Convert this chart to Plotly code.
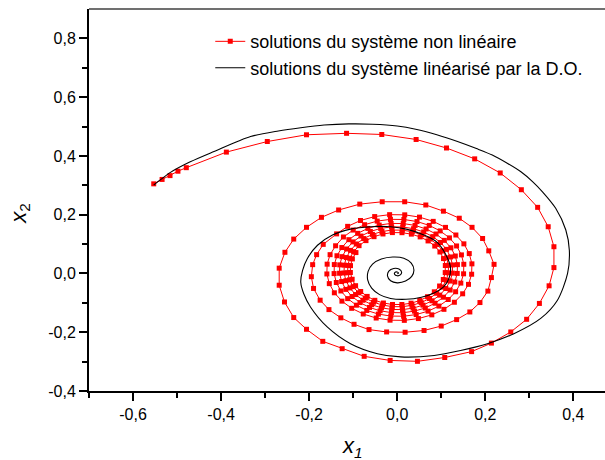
import plotly.graph_objects as go

# ---- Nonlinear system solution (red, markers at each computed step) ----
# first revolution
nl_x_turn1 = [-0.553, -0.534, -0.516, -0.498, -0.479, -0.388, -0.295, -0.206, -0.115, -0.035,
              0.043, 0.112, 0.176, 0.234, 0.282, 0.319, 0.343, 0.356, 0.356, 0.345,
              0.323, 0.294, 0.258, 0.214, 0.169, 0.108, 0.046, -0.016, -0.075, -0.125,
              -0.169, -0.206, -0.235, -0.256, -0.268, -0.268, -0.255, -0.235]
nl_y_turn1 = [0.305, 0.320, 0.333, 0.348, 0.360, 0.413, 0.449, 0.472, 0.477, 0.473,
              0.456, 0.427, 0.390, 0.342, 0.285, 0.225, 0.159, 0.091, 0.020, -0.042,
              -0.102, -0.156, -0.199, -0.237, -0.266, -0.286, -0.299, -0.296, -0.282, -0.256,
              -0.231, -0.190, -0.150, -0.097, -0.040, 0.018, 0.072, 0.117]
# second revolution
nl_x_turn2 = [-0.206, -0.172, -0.133, -0.085, -0.034, 0.017, 0.065, 0.105, 0.141, 0.170,
              0.194, 0.208, 0.220, 0.214, 0.206, 0.188, 0.165, 0.135, 0.100, 0.061,
              0.018, -0.024, -0.064, -0.098, -0.128, -0.155, -0.175, -0.190, -0.195, -0.192,
              -0.183, -0.168]
nl_y_turn2 = [0.157, 0.191, 0.216, 0.236, 0.244, 0.244, 0.233, 0.212, 0.188, 0.157,
              0.119, 0.077, 0.031, -0.014, -0.060, -0.099, -0.131, -0.157, -0.179, -0.194,
              -0.200, -0.199, -0.191, -0.173, -0.151, -0.123, -0.091, -0.051, -0.011, 0.030,
              0.064, 0.099]
# third revolution
nl_x_turn3 = [-0.1376, -0.1125, -0.0833, -0.0511, -0.0172, 0.0171, 0.0506, 0.0818, 0.1098, 0.1333,
              0.1515, 0.1637, 0.1697, 0.1691, 0.1620, 0.1487, 0.1299, 0.1062, 0.0786, 0.0482,
              0.0162, -0.0162, -0.0477, -0.0771, -0.1034, -0.1255, -0.1427, -0.1542, -0.1597, -0.1591,
              -0.1524, -0.1399]
nl_y_turn3 = [0.1347, 0.1603, 0.1803, 0.1936, 0.2001, 0.1995, 0.1918, 0.1773, 0.1568, 0.1309,
              0.1008, 0.0677, 0.0327, -0.0026, -0.0371, -0.0692, -0.0980, -0.1221, -0.1409, -0.1535,
              -0.1596, -0.1590, -0.1517, -0.1379, -0.1186, -0.0942, -0.0658, -0.0346, -0.0017, 0.0316,
              0.0640, 0.0942]
# fourth revolution
nl_x_turn4 = [-0.1221, -0.0999, -0.0740, -0.0454, -0.0153, 0.0152, 0.0450, 0.0728, 0.0977, 0.1187,
              0.1349, 0.1459, 0.1513, 0.1508, 0.1445, 0.1327, 0.1160, 0.0948, 0.0702, 0.0431,
              0.0145, -0.0145, -0.0427, -0.0691, -0.0926, -0.1125, -0.1279, -0.1383, -0.1433, -0.1428,
              -0.1368, -0.1257]
nl_y_turn4 = [0.1242, 0.1477, 0.1659, 0.1782, 0.1842, 0.1837, 0.1767, 0.1635, 0.1448, 0.1211,
              0.0936, 0.0632, 0.0312, -0.0012, -0.0328, -0.0623, -0.0887, -0.1110, -0.1282, -0.1399,
              -0.1455, -0.1450, -0.1383, -0.1258, -0.1080, -0.0856, -0.0595, -0.0307, -0.0004, 0.0303,
              0.0603, 0.0882]
# fifth revolution
nl_x_turn5 = [-0.1098, -0.0898, -0.0666, -0.0409, -0.0138, 0.0137, 0.0406, 0.0657, 0.0882, 0.1071,
              0.1220, 0.1320, 0.1368, 0.1364, 0.1309, 0.1203, 0.1051, 0.0860, 0.0638, 0.0392,
              0.0132, -0.0131, -0.0388, -0.0629, -0.0844, -0.1025, -0.1167, -0.1262, -0.1309, -0.1305,
              -0.1252, -0.1150]
nl_y_turn5 = [0.1150, 0.1365, 0.1533, 0.1647, 0.1703, 0.1698, 0.1635, 0.1514, 0.1343, 0.1126,
              0.0874, 0.0594, 0.0300, 0.0001, -0.0291, -0.0564, -0.0808, -0.1013, -0.1175, -0.1282,
              -0.1336, -0.1332, -0.1271, -0.1156, -0.0991, -0.0784, -0.0542, -0.0275, 0.0007, 0.0293,
              0.0572, 0.0832]
# sixth revolution
nl_x_turn6 = [-0.1005, -0.0823, -0.0610, -0.0375, -0.0126, 0.0126, 0.0372, 0.0602, 0.0809, 0.0983,
              0.1119, 0.1211, 0.1257, 0.1253, 0.1202, 0.1105, 0.0966, 0.0791, 0.0586, 0.0360,
              0.0121, -0.0121, -0.0357, -0.0579, -0.0777, -0.0945, -0.1075, -0.1164, -0.1207, -0.1203,
              -0.1154, -0.1061]
nl_y_turn6 = [0.1074, 0.1273, 0.1428, 0.1534, 0.1586, 0.1581, 0.1523, 0.1412, 0.1254, 0.1054,
              0.0820, 0.0562, 0.0289, 0.0012, -0.0258, -0.0511, -0.0738, -0.0930, -0.1078, -0.1180,
              -0.1230, -0.1225, -0.1170, -0.1063, -0.0911, -0.0718, -0.0493, -0.0245, 0.0017, 0.0283,
              0.0542, 0.0785]
# seventh revolution
nl_x_turn7 = [-0.0928, -0.0760, -0.0563, -0.0346, -0.0117, 0.0116, 0.0344, 0.0557, 0.0749, 0.0910,
              0.1036, 0.1122, 0.1164, 0.1162, 0.1115, 0.1025, 0.0897, 0.0734, 0.0544, 0.0335,
              0.0113, -0.0112, -0.0332, -0.0539, -0.0723, -0.0879, -0.1001, -0.1084, -0.1125, -0.1122,
              -0.1077, -0.0990]
nl_y_turn7 = [0.1003, 0.1187, 0.1330, 0.1428, 0.1477, 0.1474, 0.1420, 0.1318, 0.1172, 0.0987,
              0.0770, 0.0531, 0.0278, 0.0022, -0.0229, -0.0464, -0.0674, -0.0852, -0.0991, -0.1085,
              -0.1132, -0.1129, -0.1077, -0.0979, -0.0837, -0.0658, -0.0449, -0.0218, 0.0026, 0.0274,
              0.0516, 0.0743]
# eighth revolution
nl_x_turn8 = [-0.0866, -0.0709, -0.0526, -0.0323, -0.0109, 0.0109, 0.0322, 0.0522, 0.0701, 0.0853,
              0.0971, 0.1052, 0.1093, 0.1091, 0.1047, 0.0963, 0.0843, 0.0690, 0.0512, 0.0315,
              0.0106, -0.0106, -0.0313, -0.0508, -0.0682, -0.0829, -0.0945, -0.1023, -0.1063, -0.1061,
              -0.1018, -0.0937]
nl_y_turn8 = [0.0946, 0.1118, 0.1252, 0.1344, 0.1391, 0.1388, 0.1338, 0.1244, 0.1107, 0.0933,
              0.0731, 0.0507, 0.0271, 0.0030, -0.0206, -0.0427, -0.0625, -0.0792, -0.0922, -0.1012,
              -0.1057, -0.1055, -0.1006, -0.0914, -0.0781, -0.0613, -0.0416, -0.0197, 0.0033, 0.0267,
              0.0496, 0.0711]

nl_x = (nl_x_turn1 + nl_x_turn2 + nl_x_turn3 + nl_x_turn4 +
        nl_x_turn5 + nl_x_turn6 + nl_x_turn7 + nl_x_turn8)
nl_y = (nl_y_turn1 + nl_y_turn2 + nl_y_turn3 + nl_y_turn4 +
        nl_y_turn5 + nl_y_turn6 + nl_y_turn7 + nl_y_turn8)

# ---- Linearised system solution (black, continuous) ----
lin_x = [-0.553, -0.535, -0.515, -0.470, -0.416, -0.333, -0.270, -0.219, -0.166, -0.110,
         -0.056, 0.000, 0.042, 0.090, 0.137, 0.180, 0.216, 0.250, 0.281, 0.308,
         0.330, 0.360, 0.383, 0.391, 0.387, 0.364, 0.326, 0.265, 0.205, 0.144,
         0.084, 0.008, -0.045, -0.106, -0.159, -0.197, -0.212, -0.219, -0.215, -0.204,
         -0.181, -0.147, -0.106, -0.060, -0.015, 0.023, 0.061, 0.091, 0.110, 0.121,
         0.118, 0.106, 0.085, 0.055, 0.020, -0.015, -0.040, -0.058, -0.067, -0.066,
         -0.056, -0.036, -0.010, 0.015, 0.032, 0.038, 0.033, 0.019, 0.000, -0.015,
         -0.022, -0.019, -0.008, 0.004, 0.010, 0.007, 0.000, -0.006, -0.005, 0.000,
         0.003, 0.000]
lin_y = [0.301, 0.322, 0.344, 0.380, 0.415, 0.466, 0.485, 0.496, 0.505, 0.509,
         0.508, 0.502, 0.491, 0.472, 0.449, 0.425, 0.403, 0.375, 0.346, 0.312,
         0.278, 0.222, 0.148, 0.079, 0.000, -0.091, -0.153, -0.205, -0.239, -0.262,
         -0.279, -0.284, -0.273, -0.239, -0.182, -0.114, -0.070, -0.030, 0.010, 0.051,
         0.096, 0.131, 0.151, 0.159, 0.159, 0.150, 0.131, 0.106, 0.065, 0.020,
         -0.015, -0.045, -0.066, -0.081, -0.088, -0.085, -0.072, -0.050, -0.022, 0.007,
         0.032, 0.049, 0.056, 0.052, 0.035, 0.012, -0.010, -0.026, -0.032, -0.025,
         -0.008, 0.008, 0.017, 0.015, 0.005, -0.005, -0.008, -0.003, 0.004, 0.005,
         0.001, -0.001]

# ---- Axis ticks ----
x_tick_vals = [-0.6, -0.4, -0.2, 0.0, 0.2, 0.4]
x_tick_text = ["-0,6", "-0,4", "-0,2", "0,0", "0,2", "0,4"]
x_minor_vals = [-0.7, -0.5, -0.3, -0.1, 0.1, 0.3]
y_tick_vals = [-0.4, -0.2, 0.0, 0.2, 0.4, 0.6, 0.8]
y_tick_text = ["-0,4", "-0,2", "0,0", "0,2", "0,4", "0,6", "0,8"]
y_minor_vals = [-0.3, -0.1, 0.1, 0.3, 0.5, 0.7]

FONT = "Liberation Sans, Arial, sans-serif"

fig = go.Figure()
fig.add_trace(go.Scatter(
    x=nl_x, y=nl_y, mode="lines+markers",
    name="solutions du système non linéaire",
    line=dict(color="#ff0000", width=1),
    marker=dict(symbol="square", size=5, color="#ff0000"),
))
fig.add_trace(go.Scatter(
    x=lin_x, y=lin_y, mode="lines",
    name="solutions du système linéarisé par la D.O.",
    line=dict(color="black", width=1.1, shape="spline", smoothing=0.8),
))

axis_common = dict(
    showgrid=False, zeroline=False, showline=True, linecolor="black", linewidth=2,
    ticks="outside", ticklen=8, tickwidth=2, tickcolor="black",
    tickfont=dict(family=FONT, size=16, color="black"),
    tickmode="array",
)
fig.update_xaxes(
    range=[-0.7, 0.472], tickvals=x_tick_vals, ticktext=x_tick_text,
    minor=dict(tickvals=x_minor_vals, ticks="outside", ticklen=5, tickwidth=2, tickcolor="black"),
    **axis_common,
)
fig.update_yaxes(
    range=[-0.4, 0.9], tickvals=y_tick_vals, ticktext=y_tick_text,
    minor=dict(tickvals=y_minor_vals, ticks="outside", ticklen=5, tickwidth=2, tickcolor="black"),
    **axis_common,
)

# top frame line
fig.add_shape(type="line", xref="paper", yref="paper", x0=0, x1=1, y0=1, y1=1,
              line=dict(color="#707070", width=2))

# axis titles
fig.add_annotation(text="<i>x<sub>1</sub></i>", xref="paper", yref="paper",
                   x=0.51, y=-0.147, xanchor="center", yanchor="middle", showarrow=False,
                   font=dict(family=FONT, size=22, color="black"))
fig.add_annotation(text="<i>x</i><sub>2</sub>", xref="paper", yref="paper",
                   x=-0.134, y=0.466, xanchor="center", yanchor="middle",
                   showarrow=False, textangle=-90,
                   font=dict(family=FONT, size=22, color="black"))

fig.update_layout(
    width=605, height=460,
    margin=dict(l=89, r=0, t=9, b=69),
    plot_bgcolor="white", paper_bgcolor="white",
    showlegend=True,
    legend=dict(x=0.235, y=0.963, xanchor="left", yanchor="top",
                bgcolor="rgba(0,0,0,0)", borderwidth=0,
                font=dict(family=FONT, size=18, color="black"),
                tracegroupgap=0),
)

fig.write_html("out.html")
